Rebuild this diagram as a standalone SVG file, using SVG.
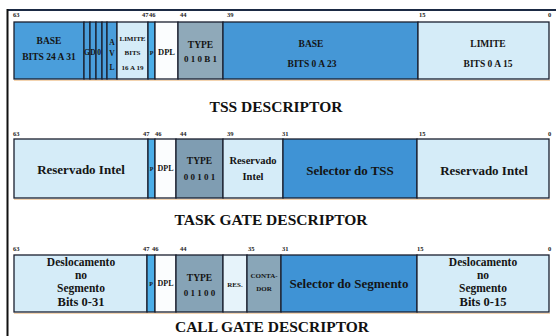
<svg xmlns="http://www.w3.org/2000/svg" width="556" height="336" viewBox="0 0 556 336">
<style>
.c{stroke:#1a1f2e;stroke-width:1.3}
.t{font-family:"Liberation Serif","DejaVu Serif",serif;font-weight:bold;fill:#141414;text-anchor:middle}
.b{font-family:"Liberation Serif","DejaVu Serif",serif;font-weight:bold;fill:#222;font-size:6.5px}
.h{font-family:"Liberation Serif","DejaVu Serif",serif;font-weight:bold;fill:#111;font-size:15.5px;text-anchor:middle}
.lt{fill:#d5ecf8}.md{fill:#4a9edb}.dk{fill:#3f93d5}.gr{fill:#88a5b8}.pp{fill:#4caee8}.wh{fill:#fbfdfe}
.sh{stroke:#e8a862;stroke-width:1.2;opacity:.5}
</style>
<rect width="556" height="336" fill="#fff"/>
<g id="frame">
<line x1="7" y1="10" x2="556" y2="10" stroke="#1b2a44" stroke-width="2"/>
<line x1="7.5" y1="9" x2="7.5" y2="336" stroke="#111" stroke-width="2"/>
</g>
<g id="connectors"/>
<!-- TSS DESCRIPTOR -->
<g id="tss">
<g id="tss-bits">
<text class="b" x="13" y="17">63</text><text class="b" x="142" y="17">47</text><text class="b" x="149" y="17">46</text>
<text class="b" x="180" y="17">44</text><text class="b" x="227" y="17">39</text><text class="b" x="419" y="17">15</text><text class="b" x="548" y="17">0</text>
</g>
<line class="sh" x1="14" y1="80.5" x2="550" y2="80.5"/>
<g id="tss-base-hi"><rect class="c md" x="14" y="22" width="70" height="57"/><text class="t" x="49" y="44" font-size="9.5">BASE</text><text class="t" x="49" y="60" font-size="9.5">BITS 24 A 31</text></g>
<g id="tss-g"><rect class="c md" x="84" y="22" width="6" height="57"/><text class="t" x="87" y="55" font-size="7.5">G</text></g>
<g id="tss-d"><rect class="c md" x="90" y="22" width="6" height="57"/><text class="t" x="93" y="55" font-size="7.5">D</text></g>
<g id="tss-0"><rect class="c md" x="96" y="22" width="6" height="57"/><text class="t" x="99" y="55" font-size="7.5">0</text></g>
<g id="tss-x"><rect class="c md" x="102" y="22" width="5" height="57"/></g>
<g id="tss-avl"><rect class="c md" x="107" y="22" width="10" height="57"/><text class="t" x="112" y="45" font-size="7.5">A</text><text class="t" x="112" y="56" font-size="7.5">V</text><text class="t" x="112" y="70" font-size="7.5">L</text></g>
<g id="tss-lim-hi"><rect class="c lt" x="117" y="22" width="31" height="57"/><text class="t" x="132.5" y="41" font-size="7">LIMITE</text><text class="t" x="132.5" y="55" font-size="7">BITS</text><text class="t" x="132.5" y="70" font-size="7">16 A 19</text></g>
<g id="tss-p"><rect class="c pp" x="148" y="22" width="7" height="57"/><text class="t" x="151.5" y="55" font-size="6">P</text></g>
<g id="tss-dpl"><rect class="c wh" x="155" y="22" width="23" height="57"/><text class="t" x="166.5" y="55" font-size="8.5">DPL</text></g>
<g id="tss-type"><rect class="c" fill="#8fa9b9" x="178" y="22" width="45" height="57"/><text class="t" x="200.5" y="48" font-size="9.5">TYPE</text><text class="t" x="200.5" y="62" font-size="9">0 1 0 B 1</text></g>
<g id="tss-base-lo"><rect class="c" fill="#4597d6" x="223" y="22" width="195" height="57"/><text class="t" x="311" y="47" font-size="9.5">BASE</text><text class="t" x="312" y="67" font-size="9.5">BITS 0 A 23</text></g>
<g id="tss-lim-lo"><rect class="c lt" x="418" y="22" width="131" height="57"/><text class="t" x="488" y="47" font-size="9.5">LIMITE</text><text class="t" x="488" y="67" font-size="9.5">BITS 0 A 15</text></g>
<text class="h" x="276" y="112">TSS DESCRIPTOR</text>
</g>
<!-- TASK GATE DESCRIPTOR -->
<g id="task">
<g id="task-bits">
<text class="b" x="13" y="136">63</text><text class="b" x="143" y="136">47</text><text class="b" x="155" y="136">46</text>
<text class="b" x="180" y="136">44</text><text class="b" x="227" y="136">39</text><text class="b" x="282" y="136">31</text><text class="b" x="419" y="136">15</text><text class="b" x="548" y="136">0</text>
</g>
<line class="sh" x1="14" y1="199.5" x2="550" y2="199.5"/>
<g id="task-res1"><rect class="c lt" x="14" y="139" width="134" height="59"/><text class="t" x="81" y="174" font-size="13">Reservado Intel</text></g>
<g id="task-p"><rect class="c pp" x="148" y="139" width="7" height="59"/><text class="t" x="151.5" y="171" font-size="6">P</text></g>
<g id="task-dpl"><rect class="c wh" x="155" y="139" width="21" height="59"/><text class="t" x="165.5" y="171" font-size="8">DPL</text></g>
<g id="task-type"><rect class="c" fill="#7f9db2" x="176" y="139" width="47" height="59"/><text class="t" x="199.5" y="164" font-size="9.5">TYPE</text><text class="t" x="199.5" y="180" font-size="9">0 0 1 0 1</text></g>
<g id="task-res2"><rect class="c lt" x="223" y="139" width="60" height="59"/><text class="t" x="253" y="164" font-size="10.5">Reservado</text><text class="t" x="253" y="180" font-size="10.5">Intel</text></g>
<g id="task-sel"><rect class="c dk" x="283" y="139" width="134" height="59"/><text class="t" x="350" y="175" font-size="13">Selector do TSS</text></g>
<g id="task-res3"><rect class="c lt" x="417" y="139" width="132" height="59"/><text class="t" x="484" y="175" font-size="13">Reservado Intel</text></g>
<text class="h" x="271" y="225">TASK GATE DESCRIPTOR</text>
</g>
<!-- CALL GATE DESCRIPTOR -->
<g id="call">
<g id="call-bits">
<text class="b" x="13" y="251">63</text><text class="b" x="143" y="251">47</text><text class="b" x="152" y="251">46</text>
<text class="b" x="180" y="251">44</text><text class="b" x="248" y="251">35</text><text class="b" x="282" y="251">31</text><text class="b" x="417" y="251">15</text><text class="b" x="548" y="251">0</text>
</g>
<line class="sh" x1="14" y1="313.5" x2="550" y2="313.5"/>
<g id="call-off-hi"><rect class="c lt" x="14" y="255" width="133" height="57"/>
<text class="t" x="81" y="266" font-size="11.5">Deslocamento</text><text class="t" x="81" y="278.5" font-size="11.5">no</text><text class="t" x="81" y="291.5" font-size="11.5">Segmento</text><text class="t" x="81" y="306" font-size="12.5">Bits 0-31</text></g>
<g id="call-p"><rect class="c pp" x="147" y="255" width="8" height="57"/><text class="t" x="151" y="286" font-size="6">P</text></g>
<g id="call-dpl"><rect class="c wh" x="155" y="255" width="21" height="57"/><text class="t" x="165.5" y="286" font-size="8">DPL</text></g>
<g id="call-type"><rect class="c" fill="#86a3b6" x="176" y="255" width="47" height="57"/><text class="t" x="199.5" y="281" font-size="9.5">TYPE</text><text class="t" x="199.5" y="296" font-size="9">0 1 1 0 0</text></g>
<g id="call-res"><rect class="c" fill="#e6f3fa" x="223" y="255" width="24" height="57"/><text class="t" x="235" y="287" font-size="7">RES.</text></g>
<g id="call-cont"><rect class="c" fill="#89a6b8" x="247" y="255" width="34" height="57"/><text class="t" x="264" y="278" font-size="7">CONTA-</text><text class="t" x="264" y="291" font-size="7">DOR</text></g>
<g id="call-sel"><rect class="c dk" x="281" y="255" width="136" height="57"/><text class="t" x="349" y="288" font-size="13">Selector do Segmento</text></g>
<g id="call-off-lo"><rect class="c lt" x="417" y="255" width="132" height="57"/>
<text class="t" x="483" y="266" font-size="11.5">Deslocamento</text><text class="t" x="483" y="278.5" font-size="11.5">no</text><text class="t" x="483" y="291.5" font-size="11.5">Segmento</text><text class="t" x="483" y="306" font-size="12.5">Bits 0-15</text></g>
<text class="h" x="272" y="332">CALL GATE DESCRIPTOR</text>
</g>
</svg>
